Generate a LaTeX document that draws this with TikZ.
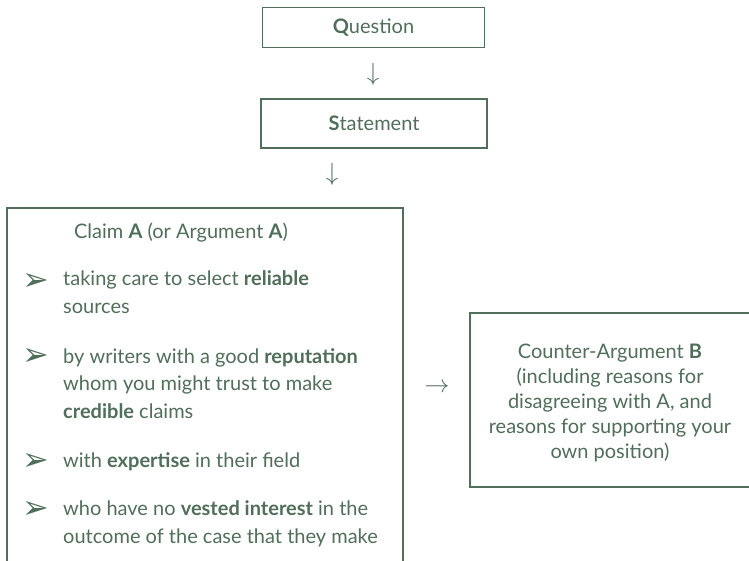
\documentclass[tikz,border=0pt]{standalone}
\usepackage{fontspec}
\setmainfont{Lato}
\newfontfamily\setas{DejaVu Sans}

\definecolor{verde}{RGB}{80,110,90}

\begin{document}
\begin{tikzpicture}[x=1pt, y=-1pt,
        every node/.style={text=verde, inner sep=0pt, font=\fontsize{20}{27.5}\selectfont},
        caixa/.style={draw=verde, line width=1.4pt},
        marca/.style={font=\setas\fontsize{32}{32}\selectfont},
        seta/.style={font=\fontsize{26}{26}\selectfont}]
        % Area da figura
        \useasboundingbox (0,0) rectangle (749,560);
        \clip (0,0) rectangle (749,560);

        \node[caixa, minimum width=222pt, minimum height=40pt] (pergunta) at (373.5,27.5) {\textbf{Q}uestion};
        \node[seta] (seta1) at (373,74) {$\downarrow$};
        \node[caixa, minimum width=226pt, minimum height=49pt] (afirmacao) at (374,123.5) {\textbf{S}tatement};
        \node[seta] (seta2) at (332,174) {$\downarrow$};

        % Caixa da esquerda
        \draw[caixa] (7,208) rectangle (403,600);
        \node[anchor=base] (titulo) at (181,238) {Claim \textbf{A} (or Argument \textbf{A})};
        \node[marca] (m1) at (36,282) {➢};
        \node[anchor=base west, align=left] (item1) at (63,313) {taking care to select \textbf{reliable}\\sources};
        \node[marca] (m2) at (36,357) {➢};
        \node[anchor=base west, align=left] (item2) at (63,418) {by writers with a good \textbf{reputation}\\whom you might trust to make\\\textbf{credible} claims};
        \node[marca] (m3) at (36,462) {➢};
        \node[anchor=base west, align=left] (item3) at (63,467) {with \textbf{expertise} in their field};
        \node[marca] (m4) at (36,510) {➢};
        \node[anchor=base west, align=left] (item4) at (63,543) {who have no \textbf{vested interest} in the\\outcome of the case that they make};

        \node[seta] (seta3) at (437,388) {$\rightarrow$};

        % Caixa da direita
        \draw[caixa] (470,313) rectangle (752,487);
        \node[anchor=base, align=center, font=\fontsize{20}{25}\selectfont] (contra) at (610,458) {Counter-Argument \textbf{B}\\(including reasons for\\disagreeing with A, and\\reasons for supporting your\\own position)};
    \end{tikzpicture}
\end{document}
